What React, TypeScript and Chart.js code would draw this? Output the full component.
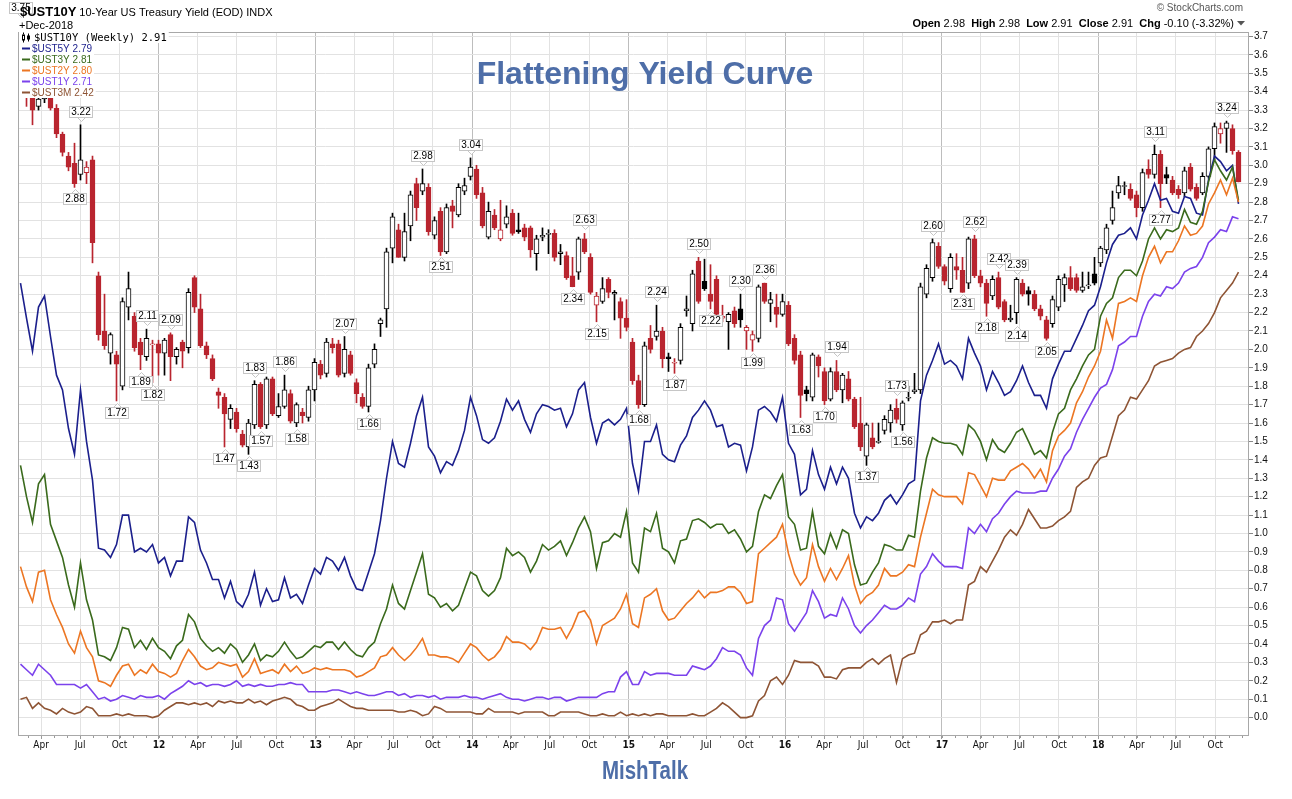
import React, { useEffect, useRef } from "react";
import { Chart, registerables } from "chart.js";

Chart.register(...registerables);

// ---- time base: each bar is a two-week period starting at this date ----
const FIRST_BAR_UTC = Date.UTC(2011, 1, 12);
const BAR_DAYS = 14;
const DAY_MS = 86400000;

// ---- $UST10Y two-week candles ----
const ust10yOpen = [
  3.60, 3.48, 3.38, 3.32, 3.36, 3.45, 3.31, 3.17, 3.05, 3.01,
  2.95, 2.96, 3.03, 2.40, 2.10, 1.98, 1.97, 1.80, 2.23, 2.18,
  2.04, 1.96, 2.03, 2.03, 1.98, 2.08, 1.96, 2.04, 2.01, 2.39,
  2.22, 2.02, 1.95, 1.77, 1.74, 1.62, 1.66, 1.54, 1.47, 1.59,
  1.81, 1.59, 1.84, 1.64, 1.69, 1.76, 1.60, 1.66, 1.63, 1.78,
  1.92, 1.87, 2.03, 2.03, 1.87, 1.97, 1.82, 1.74, 1.69, 1.92,
  2.14, 2.22, 2.55, 2.65, 2.50, 2.67, 2.90, 2.86, 2.88, 2.62,
  2.75, 2.53, 2.78, 2.73, 2.86, 2.94, 2.98, 2.85, 2.61, 2.73,
  2.60, 2.68, 2.74, 2.65, 2.66, 2.66, 2.52, 2.61, 2.63, 2.63,
  2.52, 2.51, 2.40, 2.42, 2.60, 2.50, 2.24, 2.26, 2.38, 2.30,
  2.26, 2.17, 2.04, 1.83, 1.70, 2.06, 2.07, 2.10, 1.96, 1.93,
  1.94, 2.21, 2.14, 2.48, 2.37, 2.30, 2.38, 2.17, 2.15, 2.21,
  2.22, 2.10, 2.05, 2.06, 2.36, 2.25, 2.23, 2.19, 2.24, 2.06,
  1.97, 1.78, 1.74, 1.96, 1.88, 1.73, 1.88, 1.78, 1.84, 1.73,
  1.60, 1.42, 1.52, 1.50, 1.56, 1.60, 1.68, 1.59, 1.74, 1.77,
  1.78, 2.30, 2.39, 2.56, 2.45, 2.33, 2.45, 2.43, 2.36, 2.60,
  2.40, 2.36, 2.29, 2.39, 2.26, 2.16, 2.20, 2.36, 2.32, 2.30,
  2.22, 2.16, 2.14, 2.23, 2.35, 2.39, 2.39, 2.32, 2.35, 2.41,
  2.47, 2.54, 2.70, 2.85, 2.89, 2.87, 2.84, 2.77, 2.98, 2.95,
  3.06, 2.95, 2.92, 2.87, 2.85, 2.99, 2.88, 2.85, 2.94, 3.09,
  3.17, 3.20, 3.20, 3.07,
];
const ust10yHigh = [
  3.75, 3.58, 3.40, 3.38, 3.52, 3.48, 3.33, 3.18, 3.07, 3.12,
  3.22, 3.02, 3.05, 2.42, 2.30, 2.09, 1.99, 2.28, 2.42, 2.20,
  2.06, 2.11, 2.05, 2.05, 2.06, 2.09, 2.01, 2.05, 2.33, 2.40,
  2.30, 2.04, 1.97, 1.79, 1.76, 1.70, 1.68, 1.56, 1.62, 1.83,
  1.82, 1.85, 1.85, 1.76, 1.86, 1.78, 1.71, 1.68, 1.80, 1.95,
  1.94, 2.06, 2.06, 2.05, 2.07, 1.99, 1.84, 1.76, 1.92, 2.03,
  2.17, 2.55, 2.74, 2.68, 2.74, 2.86, 2.93, 2.98, 2.90, 2.72,
  2.77, 2.79, 2.81, 2.90, 2.93, 3.04, 3.00, 2.88, 2.80, 2.76,
  2.81, 2.78, 2.76, 2.74, 2.68, 2.67, 2.62, 2.66, 2.65, 2.65,
  2.57, 2.53, 2.50, 2.61, 2.63, 2.52, 2.31, 2.39, 2.39, 2.32,
  2.28, 2.27, 2.06, 1.86, 2.04, 2.13, 2.24, 2.12, 1.98, 1.95,
  2.14, 2.29, 2.43, 2.50, 2.49, 2.46, 2.40, 2.24, 2.20, 2.23,
  2.30, 2.13, 2.10, 2.35, 2.36, 2.31, 2.30, 2.30, 2.26, 2.08,
  1.99, 1.80, 1.98, 1.97, 1.90, 1.90, 1.94, 1.87, 1.88, 1.74,
  1.74, 1.60, 1.60, 1.60, 1.64, 1.70, 1.73, 1.72, 1.80, 1.87,
  2.36, 2.46, 2.60, 2.58, 2.46, 2.52, 2.52, 2.50, 2.61, 2.62,
  2.43, 2.38, 2.40, 2.42, 2.27, 2.24, 2.39, 2.38, 2.34, 2.32,
  2.24, 2.18, 2.29, 2.40, 2.41, 2.45, 2.41, 2.42, 2.42, 2.50,
  2.56, 2.68, 2.86, 2.94, 2.91, 2.90, 2.86, 2.98, 3.03, 3.11,
  3.08, 2.99, 2.94, 2.89, 2.99, 3.01, 2.90, 2.96, 3.10, 3.23,
  3.23, 3.24, 3.22, 3.08,
];
const ust10yLow = [
  3.45, 3.32, 3.22, 3.30, 3.34, 3.30, 3.15, 3.05, 2.97, 2.88,
  2.92, 2.90, 2.47, 2.05, 2.00, 1.92, 1.72, 1.78, 2.16, 1.99,
  1.89, 1.94, 1.82, 1.86, 1.86, 1.83, 1.92, 1.90, 1.98, 2.20,
  2.01, 1.95, 1.83, 1.68, 1.47, 1.57, 1.55, 1.47, 1.43, 1.57,
  1.57, 1.57, 1.64, 1.63, 1.68, 1.60, 1.58, 1.60, 1.61, 1.72,
  1.84, 1.85, 1.98, 1.85, 1.85, 1.86, 1.71, 1.68, 1.66, 1.90,
  2.07, 2.12, 2.47, 2.50, 2.48, 2.59, 2.70, 2.84, 2.62, 2.60,
  2.51, 2.52, 2.66, 2.72, 2.84, 2.92, 2.82, 2.66, 2.60, 2.65,
  2.59, 2.66, 2.62, 2.63, 2.59, 2.50, 2.43, 2.59, 2.52, 2.48,
  2.46, 2.38, 2.34, 2.38, 2.52, 2.30, 2.15, 2.25, 2.28, 2.16,
  2.06, 2.10, 1.81, 1.68, 1.69, 1.98, 2.05, 1.90, 1.88, 1.87,
  1.92, 2.18, 2.10, 2.25, 2.32, 2.22, 2.18, 2.15, 2.00, 2.12,
  2.12, 2.00, 1.99, 2.04, 2.25, 2.15, 2.12, 2.18, 2.02, 1.92,
  1.63, 1.72, 1.72, 1.85, 1.70, 1.72, 1.77, 1.71, 1.72, 1.57,
  1.45, 1.37, 1.46, 1.49, 1.54, 1.55, 1.60, 1.56, 1.72, 1.76,
  1.76, 2.28, 2.37, 2.44, 2.35, 2.31, 2.38, 2.31, 2.33, 2.39,
  2.34, 2.18, 2.27, 2.22, 2.15, 2.15, 2.14, 2.29, 2.24, 2.21,
  2.16, 2.05, 2.12, 2.21, 2.26, 2.32, 2.31, 2.31, 2.33, 2.35,
  2.45, 2.52, 2.68, 2.82, 2.84, 2.81, 2.72, 2.75, 2.93, 2.93,
  2.77, 2.90, 2.84, 2.82, 2.83, 2.86, 2.81, 2.84, 2.93, 3.03,
  3.12, 3.07, 3.06, 2.91,
];
const ust10yClose = [
  3.48, 3.40, 3.30, 3.36, 3.45, 3.31, 3.17, 3.07, 2.99, 2.90,
  3.03, 2.99, 2.58, 2.08, 2.02, 2.08, 1.92, 2.26, 2.33, 2.01,
  1.97, 2.06, 2.03, 1.98, 2.05, 1.96, 2.00, 1.99, 2.31, 2.23,
  2.02, 1.97, 1.84, 1.75, 1.65, 1.68, 1.57, 1.48, 1.60, 1.81,
  1.58, 1.84, 1.65, 1.69, 1.78, 1.61, 1.70, 1.64, 1.78, 1.93,
  1.86, 2.04, 2.01, 1.86, 2.00, 1.87, 1.76, 1.69, 1.90, 2.00,
  2.16, 2.53, 2.72, 2.50, 2.64, 2.84, 2.77, 2.90, 2.64, 2.70,
  2.53, 2.77, 2.75, 2.88, 2.89, 2.99, 2.84, 2.67, 2.75, 2.66,
  2.65, 2.72, 2.63, 2.64, 2.61, 2.54, 2.60, 2.62, 2.63, 2.50,
  2.53, 2.39, 2.34, 2.60, 2.53, 2.31, 2.29, 2.33, 2.31, 2.31,
  2.17, 2.12, 1.83, 1.70, 2.02, 2.00, 2.10, 1.95, 1.95, 1.93,
  2.12, 2.22, 2.41, 2.26, 2.33, 2.26, 2.19, 2.18, 2.19, 2.14,
  2.16, 2.12, 2.08, 2.34, 2.26, 2.27, 2.19, 2.26, 2.03, 1.94,
  1.75, 1.76, 1.97, 1.91, 1.72, 1.88, 1.78, 1.86, 1.73, 1.58,
  1.47, 1.59, 1.47, 1.50, 1.62, 1.67, 1.62, 1.71, 1.74, 1.78,
  2.34, 2.44, 2.58, 2.45, 2.37, 2.50, 2.43, 2.31, 2.60, 2.40,
  2.36, 2.25, 2.38, 2.23, 2.16, 2.17, 2.38, 2.30, 2.30, 2.22,
  2.18, 2.06, 2.27, 2.38, 2.39, 2.33, 2.32, 2.34, 2.35, 2.36,
  2.55, 2.66, 2.77, 2.89, 2.89, 2.82, 2.77, 2.96, 2.95, 3.06,
  2.90, 2.93, 2.85, 2.84, 2.97, 2.87, 2.82, 2.94, 3.09, 3.21,
  3.20, 3.23, 3.08, 2.91,
];

// ---- other maturities (same two-week periods) ----
const ust5y = [
  2.36, 2.17, 1.99, 2.23, 2.29, 2.07, 1.86, 1.78, 1.57, 1.43,
  1.78, 1.50, 1.29, 0.92, 0.91, 0.87, 0.94, 1.10, 1.10, 0.90,
  0.92, 0.90, 0.94, 0.84, 0.87, 0.77, 0.85, 0.85, 1.09, 1.06,
  0.91, 0.84, 0.75, 0.75, 0.65, 0.74, 0.63, 0.60, 0.67, 0.79,
  0.61, 0.70, 0.63, 0.64, 0.76, 0.65, 0.67, 0.62, 0.72, 0.81,
  0.78, 0.87, 0.85, 0.80, 0.87, 0.77, 0.70, 0.69, 0.79, 0.89,
  1.07, 1.30, 1.50, 1.38, 1.36, 1.49, 1.64, 1.74, 1.47, 1.42,
  1.33, 1.39, 1.37, 1.45, 1.56, 1.74, 1.64, 1.51, 1.49, 1.52,
  1.61, 1.73, 1.67, 1.72, 1.62, 1.55, 1.65, 1.70, 1.69, 1.67,
  1.68, 1.58, 1.65, 1.78, 1.82, 1.63, 1.49, 1.60, 1.62, 1.59,
  1.62, 1.68, 1.38, 1.23, 1.50, 1.50, 1.59, 1.43, 1.40, 1.39,
  1.48, 1.53, 1.63, 1.67, 1.72, 1.67, 1.58, 1.59, 1.47, 1.49,
  1.48, 1.34, 1.47, 1.67, 1.69, 1.66, 1.61, 1.74, 1.49, 1.43,
  1.21, 1.24, 1.45, 1.32, 1.24, 1.36, 1.27, 1.36, 1.30, 1.11,
  1.03, 1.09, 1.07, 1.11, 1.18, 1.21, 1.16, 1.21, 1.27, 1.29,
  1.72, 1.86, 1.94, 2.03, 1.92, 1.94, 1.91, 1.84, 2.06, 1.98,
  1.91, 1.78, 1.88, 1.82, 1.75, 1.77, 1.83, 1.91, 1.82, 1.75,
  1.75, 1.68, 1.84, 1.92, 1.99, 1.99, 2.06, 2.13, 2.21, 2.24,
  2.34, 2.47, 2.57, 2.62, 2.63, 2.66, 2.60, 2.73, 2.81, 2.90,
  2.81, 2.82, 2.75, 2.74, 2.83, 2.82, 2.74, 2.73, 2.92, 3.05,
  3.02, 2.97, 3.00, 2.79,
];
const ust3y = [
  1.37, 1.20, 1.06, 1.27, 1.32, 1.05, 0.96, 0.87, 0.72, 0.60,
  0.84, 0.64, 0.53, 0.34, 0.33, 0.31, 0.38, 0.49, 0.48, 0.38,
  0.42, 0.37, 0.43, 0.38, 0.36, 0.32, 0.39, 0.42, 0.56, 0.52,
  0.43, 0.39, 0.36, 0.38, 0.35, 0.40, 0.37, 0.30, 0.34, 0.40,
  0.31, 0.34, 0.33, 0.36, 0.41, 0.36, 0.32, 0.33, 0.36, 0.39,
  0.38, 0.41, 0.41, 0.37, 0.41, 0.37, 0.34, 0.33, 0.38, 0.41,
  0.51, 0.59, 0.72, 0.62, 0.59, 0.69, 0.79, 0.89, 0.67, 0.65,
  0.60, 0.62, 0.58, 0.61, 0.70, 0.79, 0.77, 0.69, 0.66, 0.69,
  0.76, 0.92, 0.88, 0.90, 0.87, 0.79, 0.85, 0.94, 0.91, 0.93,
  0.96, 0.88, 0.95, 1.03, 1.09, 1.01, 0.81, 0.95, 0.96, 1.00,
  0.98, 1.12, 0.84, 0.79, 1.03, 1.01, 1.11, 0.92, 0.90, 0.84,
  0.96, 0.97, 1.07, 1.08, 1.06, 1.03, 1.05, 1.05, 1.00, 1.02,
  0.97, 0.90, 0.93, 1.12, 1.21, 1.19, 1.26, 1.32, 1.09, 1.05,
  0.91, 0.92, 1.12, 0.93, 0.89, 1.00, 0.92, 1.02, 1.00, 0.83,
  0.72, 0.73, 0.79, 0.84, 0.94, 0.93, 0.91, 0.91, 0.99, 0.98,
  1.23, 1.41, 1.52, 1.50, 1.49, 1.49, 1.48, 1.43, 1.59, 1.56,
  1.50, 1.40, 1.51, 1.46, 1.44, 1.49, 1.55, 1.57, 1.50, 1.43,
  1.45, 1.41, 1.55, 1.65, 1.68, 1.78, 1.84, 1.91, 1.97, 2.00,
  2.18, 2.25, 2.28, 2.39, 2.43, 2.43, 2.40, 2.48, 2.60, 2.66,
  2.60, 2.65, 2.64, 2.66, 2.76, 2.69, 2.68, 2.75, 2.91, 3.03,
  2.97, 2.92, 2.99, 2.81,
];
const ust2y = [
  0.82, 0.71, 0.63, 0.79, 0.80, 0.64, 0.56, 0.49, 0.40, 0.35,
  0.47, 0.38, 0.33, 0.20, 0.19, 0.17, 0.23, 0.28, 0.29, 0.23,
  0.26, 0.24, 0.29, 0.25, 0.24, 0.22, 0.24, 0.31, 0.37, 0.33,
  0.28, 0.26, 0.27, 0.30, 0.29, 0.28, 0.29, 0.22, 0.25, 0.32,
  0.24, 0.25, 0.26, 0.24, 0.29, 0.25, 0.28, 0.24, 0.25, 0.27,
  0.26, 0.27, 0.26, 0.26, 0.26, 0.25, 0.22, 0.23, 0.25, 0.27,
  0.33, 0.34, 0.38, 0.34, 0.31, 0.34, 0.38, 0.43, 0.34, 0.34,
  0.33, 0.33, 0.32, 0.30, 0.35, 0.40, 0.38, 0.34, 0.31, 0.33,
  0.37, 0.44, 0.41, 0.41, 0.40, 0.37, 0.41, 0.49, 0.48, 0.48,
  0.49, 0.43, 0.49, 0.57, 0.58, 0.53, 0.40, 0.50, 0.52, 0.54,
  0.59, 0.67, 0.51, 0.49, 0.65, 0.67, 0.70, 0.58, 0.53, 0.54,
  0.58, 0.62, 0.65, 0.69, 0.65, 0.68, 0.68, 0.69, 0.71, 0.71,
  0.68, 0.62, 0.63, 0.89, 0.92, 0.95, 0.98, 1.05, 0.89, 0.78,
  0.72, 0.76, 0.94, 0.82, 0.74, 0.81, 0.75, 0.81, 0.88, 0.72,
  0.62, 0.66, 0.68, 0.72, 0.81, 0.77, 0.77, 0.79, 0.83, 0.82,
  0.98, 1.11, 1.24, 1.21, 1.20, 1.20, 1.20, 1.16, 1.33, 1.32,
  1.26, 1.20, 1.30, 1.29, 1.29, 1.34, 1.36, 1.38, 1.35, 1.30,
  1.35, 1.28, 1.45, 1.53, 1.56, 1.60, 1.71, 1.77, 1.85, 1.91,
  1.99, 2.16, 2.06, 2.25, 2.26, 2.28, 2.26, 2.40, 2.50, 2.56,
  2.47, 2.53, 2.53, 2.59, 2.67, 2.62, 2.63, 2.67, 2.79, 2.85,
  2.92, 2.84, 2.93, 2.80,
];
const ust1y = [
  0.29, 0.26, 0.23, 0.29, 0.26, 0.23, 0.18, 0.18, 0.18, 0.18,
  0.16, 0.18, 0.14, 0.10, 0.11, 0.09, 0.10, 0.12, 0.11, 0.10,
  0.12, 0.11, 0.11, 0.12, 0.10, 0.13, 0.15, 0.17, 0.20, 0.18,
  0.19, 0.17, 0.18, 0.18, 0.17, 0.18, 0.20, 0.17, 0.18, 0.17,
  0.18, 0.17, 0.17, 0.18, 0.18, 0.19, 0.18, 0.18, 0.14, 0.14,
  0.14, 0.14, 0.15, 0.15, 0.14, 0.13, 0.14, 0.13, 0.12, 0.12,
  0.13, 0.14, 0.14, 0.12, 0.13, 0.11, 0.12, 0.12, 0.11, 0.12,
  0.10, 0.11, 0.11, 0.11, 0.12, 0.11, 0.11, 0.10, 0.11, 0.12,
  0.13, 0.11, 0.10, 0.10, 0.09, 0.10, 0.11, 0.11, 0.10, 0.11,
  0.11, 0.09, 0.10, 0.11, 0.11, 0.11, 0.11, 0.13, 0.14, 0.14,
  0.22, 0.25, 0.18, 0.18, 0.25, 0.23, 0.24, 0.24, 0.24, 0.23,
  0.23, 0.23, 0.28, 0.27, 0.26, 0.28, 0.32, 0.38, 0.36, 0.36,
  0.34, 0.27, 0.23, 0.43, 0.50, 0.53, 0.65, 0.64, 0.51, 0.47,
  0.52, 0.57, 0.69, 0.63, 0.54, 0.56, 0.55, 0.65, 0.59, 0.50,
  0.46, 0.50, 0.53, 0.57, 0.61, 0.59, 0.59, 0.61, 0.65, 0.63,
  0.78, 0.82, 0.89, 0.85, 0.82, 0.82, 0.82, 0.81, 1.03, 1.00,
  1.05, 1.01, 1.08, 1.11, 1.16, 1.20, 1.23, 1.22, 1.22, 1.22,
  1.23, 1.23, 1.30, 1.35, 1.42, 1.46, 1.55, 1.62, 1.68, 1.74,
  1.79, 1.81, 1.89, 2.02, 2.04, 2.07, 2.07, 2.18, 2.26, 2.30,
  2.29, 2.34, 2.33, 2.36, 2.42, 2.44, 2.45, 2.50, 2.58, 2.61,
  2.65, 2.64, 2.72, 2.71,
];
const ust3m = [
  0.10, 0.11, 0.05, 0.08, 0.05, 0.04, 0.02, 0.05, 0.03, 0.02,
  0.03, 0.06, 0.05, 0.01, 0.01, 0.01, 0.02, 0.01, 0.02, 0.01,
  0.01, 0.01, 0.00, 0.01, 0.04, 0.06, 0.08, 0.08, 0.07, 0.08,
  0.07, 0.08, 0.06, 0.09, 0.08, 0.09, 0.08, 0.08, 0.10, 0.08,
  0.09, 0.07, 0.09, 0.10, 0.11, 0.10, 0.07, 0.06, 0.04, 0.04,
  0.06, 0.07, 0.08, 0.10, 0.08, 0.06, 0.05, 0.05, 0.04, 0.04,
  0.04, 0.04, 0.04, 0.03, 0.03, 0.04, 0.03, 0.01, 0.02, 0.06,
  0.05, 0.03, 0.03, 0.03, 0.03, 0.03, 0.02, 0.02, 0.05, 0.03,
  0.03, 0.03, 0.03, 0.02, 0.03, 0.03, 0.03, 0.03, 0.01, 0.01,
  0.03, 0.03, 0.03, 0.03, 0.02, 0.01, 0.01, 0.02, 0.01, 0.01,
  0.03, 0.01, 0.02, 0.01, 0.02, 0.01, 0.02, 0.02, 0.01, 0.01,
  0.01, 0.01, 0.02, 0.01, 0.01, 0.03, 0.05, 0.08, 0.06, 0.03,
  0.00, 0.00, 0.01, 0.09, 0.12, 0.20, 0.22, 0.18, 0.23, 0.31,
  0.30, 0.30, 0.30, 0.28, 0.22, 0.22, 0.21, 0.26, 0.27, 0.27,
  0.27, 0.30, 0.32, 0.29, 0.32, 0.34, 0.19, 0.32, 0.34, 0.35,
  0.45, 0.47, 0.52, 0.52, 0.53, 0.51, 0.53, 0.53, 0.72, 0.74,
  0.82, 0.79, 0.85, 0.91, 0.98, 1.02, 0.99, 1.05, 1.13, 1.08,
  1.03, 1.03, 1.04, 1.07, 1.09, 1.12, 1.25, 1.28, 1.30, 1.37,
  1.41, 1.42, 1.53, 1.64, 1.67, 1.74, 1.73, 1.78, 1.83, 1.91,
  1.93, 1.94, 1.95, 1.98, 2.00, 2.01, 2.07, 2.10, 2.14, 2.20,
  2.28, 2.32, 2.36, 2.42,
];

// ---- axis labels ----
const xTickLabels = [
  "Apr", "Jul", "Oct", "12", "Apr", "Jul", "Oct", "13", "Apr", "Jul", "Oct",
  "14", "Apr", "Jul", "Oct", "15", "Apr", "Jul", "Oct", "16", "Apr", "Jul",
  "Oct", "17", "Apr", "Jul", "Oct", "18", "Apr", "Jul", "Oct",
];
const yTickValues = [
  0.0, 0.1, 0.2, 0.3, 0.4, 0.5, 0.6, 0.7, 0.8, 0.9, 1.0, 1.1, 1.2, 1.3, 1.4,
  1.5, 1.6, 1.7, 1.8, 1.9, 2.0, 2.1, 2.2, 2.3, 2.4, 2.5, 2.6, 2.7, 2.8, 2.9,
  3.0, 3.1, 3.2, 3.3, 3.4, 3.5, 3.6, 3.7,
];

// ---- price flags on the 10Y candles (bar index, value, above/below) ----
const annIndex = [
  0, 10, 9, 16, 21, 20, 25, 22, 34, 38, 39, 40, 44, 46, 54, 58, 67, 70, 75, 92,
  94, 96, 103, 106, 109, 113, 115, 120, 122, 124, 130, 134, 136, 141, 146, 147,
  152, 157, 159, 161, 163, 166, 166, 171, 189, 190, 201,
];
const annValue = [
  3.75, 3.22, 2.88, 1.72, 2.11, 1.89, 2.09, 1.82, 1.47, 1.43, 1.83, 1.57, 1.86,
  1.58, 2.07, 1.66, 2.98, 2.51, 3.04, 2.34, 2.63, 2.15, 1.68, 2.24, 1.87, 2.50,
  2.22, 2.30, 1.99, 2.36, 1.63, 1.70, 1.94, 1.37, 1.73, 1.56, 2.60, 2.31, 2.62,
  2.18, 2.42, 2.39, 2.14, 2.05, 3.11, 2.77, 3.24,
];
const annSide = [
  "a", "a", "b", "b", "a", "b", "a", "b", "b", "b", "a", "b", "a", "b", "a",
  "b", "a", "b", "a", "b", "a", "b", "b", "a", "b", "a", "b", "a", "b", "a",
  "b", "b", "a", "b", "a", "b", "a", "b", "a", "b", "a", "a", "b", "b", "a",
  "b", "a",
];

const legendNames = ["$UST10Y (Weekly)", "$UST5Y", "$UST3Y", "$UST2Y", "$UST1Y", "$UST3M"];
const legendLast = [2.91, 2.79, 2.81, 2.80, 2.71, 2.42];

// ---- styling ----
const SANS = "'Liberation Sans', Arial, sans-serif";
const NARROW = "'Liberation Sans Narrow', 'Arial Narrow', 'DejaVu Sans Condensed', sans-serif";
const MONO = "'DejaVu Sans Mono', 'Liberation Mono', monospace";
const RED = "#b9252f";
const BLUE = "#1b1f8c";
const GREEN = "#3a6a1c";
const ORANGE = "#ec7623";
const PURPLE = "#7b42ec";
const BROWN = "#8e5434";
const TITLE_BLUE = "#4e6ea8";
const seriesColors = ["#000000", BLUE, GREEN, ORANGE, PURPLE, BROWN];

const X_MIN = -0.4167;
const X_MAX = 204.75;
const Y_MIN = -0.1;
const Y_MAX = 3.724;

const barValue = (utc: number) => (utc - FIRST_BAR_UTC) / DAY_MS / BAR_DAYS;
const xTickValues = xTickLabels.map((_, k) => barValue(Date.UTC(2011, 3 + 3 * k, 1)));
const isYearLabel = (k: number) => /^\d/.test(xTickLabels[k] ?? "");

const decorPlugin = {
  id: "decor",
  afterDraw(chart: any) {
    const { ctx, chartArea: a } = chart;
    const xs = chart.scales.x;
    const ys = chart.scales.y;
    ctx.save();

    // month ticks along the time axis
    ctx.strokeStyle = "#9a9a9a";
    ctx.lineWidth = 1;
    for (let m = 1; m < 96; m++) {
      const v = barValue(Date.UTC(2011, m, 1));
      if (v < X_MIN || v > X_MAX) continue;
      const px = Math.round(xs.getPixelForValue(v)) + 0.5;
      ctx.beginPath();
      ctx.moveTo(px, a.bottom);
      ctx.lineTo(px, a.bottom + 2);
      ctx.stroke();
    }

    // plot frame
    ctx.strokeStyle = "#a8a8a8";
    ctx.strokeRect(Math.round(a.left) + 0.5, Math.round(a.top) + 0.5,
      Math.round(a.right - a.left) - 1, Math.round(a.bottom - a.top) - 1);

    // legend (white backed rows)
    for (let k = 0; k < legendNames.length; k++) {
      const y = a.top + 5.5 + 11 * k;
      const label = `${legendNames[k]} ${legendLast[k].toFixed(2)}`;
      ctx.font = k === 0 ? `10.5px ${MONO}` : `10px ${SANS}`;
      const tx = k === 0 ? 34 : 32;
      const tw = ctx.measureText(label).width;
      ctx.fillStyle = "#ffffff";
      ctx.fillRect(a.left + 1, y - 5.5, tx + tw + 2 - (a.left + 1), 11);
      if (k === 0) {
        ctx.strokeStyle = "#000";
        ctx.beginPath();
        ctx.moveTo(23.5, y - 5); ctx.lineTo(23.5, y + 5);
        ctx.moveTo(28.5, y - 4); ctx.lineTo(28.5, y + 4);
        ctx.stroke();
        ctx.fillStyle = "#fff";
        ctx.fillRect(22, y - 3, 3, 5);
        ctx.strokeRect(22.5, y - 2.5, 2, 5);
        ctx.fillStyle = "#000";
        ctx.fillRect(27, y - 2, 3, 4);
      } else {
        ctx.fillStyle = seriesColors[k];
        ctx.fillRect(22, y - 1, 8, 2);
      }
      ctx.fillStyle = seriesColors[k];
      ctx.textAlign = "left";
      ctx.textBaseline = "middle";
      ctx.fillText(label, tx, y + 0.5);
    }

    // price flags
    ctx.font = `10px ${SANS}`;
    ctx.textAlign = "center";
    ctx.textBaseline = "middle";
    ctx.lineWidth = 1;
    annIndex.forEach((idx, k) => {
      const val = annValue[k];
      const txt = val.toFixed(2);
      const px = Math.round(xs.getPixelForValue(idx));
      const py = ys.getPixelForValue(val);
      const w = Math.ceil(ctx.measureText(txt).width) + 4;
      const h = 12;
      const above = annSide[k] === "a";
      let top = val > Y_MAX ? 2 : above ? py - 7 - h : py + 6;
      top = Math.round(top);
      const left = Math.round(px - w / 2);
      ctx.fillStyle = "#ffffff";
      ctx.strokeStyle = "#c6c6c6";
      ctx.beginPath();
      if (above) {
        ctx.moveTo(px - 3.5, top + h - 0.5);
        ctx.lineTo(px + 0.5, top + h + 3.5);
        ctx.lineTo(px + 4.5, top + h - 0.5);
      } else {
        ctx.moveTo(px - 3.5, top + 0.5);
        ctx.lineTo(px + 0.5, top - 3.5);
        ctx.lineTo(px + 4.5, top + 0.5);
      }
      ctx.fill();
      ctx.stroke();
      ctx.fillRect(left, top, w, h);
      ctx.strokeRect(left + 0.5, top + 0.5, w - 1, h - 1);
      ctx.fillStyle = "#000";
      ctx.fillText(txt, left + w / 2, top + h / 2 + 0.5);
    });

    // title
    ctx.fillStyle = TITLE_BLUE;
    ctx.textAlign = "center";
    ctx.textBaseline = "alphabetic";
    ctx.font = `bold 32px ${SANS}`;
    ctx.fillText("Flattening Yield Curve", 645, 84);

    // footer
    ctx.save();
    ctx.translate(645, 779);
    ctx.scale(0.82, 1);
    ctx.font = `bold 25px ${SANS}`;
    ctx.fillText("MishTalk", 0, 0);
    ctx.restore();

    // header left
    ctx.textAlign = "left";
    ctx.fillStyle = "#000";
    ctx.font = `bold 13px ${SANS}`;
    ctx.fillText("$UST10Y", 20, 16);
    const w1 = ctx.measureText("$UST10Y").width;
    ctx.font = `11px ${SANS}`;
    ctx.fillText("10-Year US Treasury Yield (EOD) INDX", 20 + w1 + 3, 16);
    ctx.fillText("+Dec-2018", 19, 29);

    // header right
    ctx.fillStyle = "#555";
    ctx.font = `10px ${SANS}`;
    ctx.textAlign = "right";
    ctx.fillText("\u00A9 StockCharts.com", 1243, 11);
    const parts: [string, boolean][] = [
      ["Open", true], [" 2.98  ", false], ["High", true], [" 2.98  ", false],
      ["Low", true], [" 2.91  ", false], ["Close", true], [" 2.91  ", false],
      ["Chg", true], [" -0.10 (-3.32%)", false],
    ];
    let total = 0;
    parts.forEach(([t, b]) => {
      ctx.font = `${b ? "bold " : ""}11px ${SANS}`;
      total += ctx.measureText(t).width;
    });
    let cx = 1234 - total;
    ctx.textAlign = "left";
    ctx.fillStyle = "#000";
    parts.forEach(([t, b]) => {
      ctx.font = `${b ? "bold " : ""}11px ${SANS}`;
      ctx.fillText(t, cx, 27);
      cx += ctx.measureText(t).width;
    });
    ctx.fillStyle = "#555";
    ctx.beginPath();
    ctx.moveTo(1237, 21); ctx.lineTo(1245, 21); ctx.lineTo(1241, 25.5);
    ctx.closePath();
    ctx.fill();

    ctx.restore();
  },
};

export default function App() {
  const ref = useRef<HTMLCanvasElement>(null);

  useEffect(() => {
    const canvas = ref.current;
    if (!canvas) return;
    const idx = ust10yClose.map((_, i) => i);
    const candleColor = ust10yClose.map((c, i) => {
      const prev = i === 0 ? ust10yOpen[0] : ust10yClose[i - 1];
      return c >= prev ? "#000000" : RED;
    });
    const candleFill = ust10yClose.map((c, i) => (c >= ust10yOpen[i] ? "#ffffff" : candleColor[i]));
    const line = (label: string, values: number[], color: string) => ({
      type: "line" as const,
      label,
      data: values.map((v, i) => ({ x: i, y: v })),
      borderColor: color,
      backgroundColor: color,
      borderWidth: 1.6,
      pointRadius: 0,
      tension: 0,
      order: 1,
    });

    const chart = new Chart(canvas, {
      type: "bar",
      data: {
        datasets: [
          {
            type: "bar",
            label: "wick",
            data: idx.map((i) => ({ x: i, y: [ust10yLow[i], ust10yHigh[i]] })),
            backgroundColor: candleColor,
            borderWidth: 0,
            barThickness: 1,
            grouped: false,
            order: 3,
          } as any,
          {
            type: "bar",
            label: "body",
            data: idx.map((i) => ({ x: i, y: [ust10yOpen[i], ust10yClose[i]] })),
            backgroundColor: candleFill,
            borderColor: candleColor,
            borderWidth: 1,
            borderSkipped: false,
            barThickness: 5,
            minBarLength: 1,
            grouped: false,
            order: 2,
          } as any,
          line("$UST3M", ust3m, BROWN),
          line("$UST1Y", ust1y, PURPLE),
          line("$UST2Y", ust2y, ORANGE),
          line("$UST3Y", ust3y, GREEN),
          line("$UST5Y", ust5y, BLUE),
        ],
      },
      options: {
        responsive: false,
        animation: false,
        devicePixelRatio: 1,
        layout: { padding: { left: 18, top: 32, right: 0, bottom: 0 } },
        plugins: { legend: { display: false }, tooltip: { enabled: false } },
        events: [],
        scales: {
          x: {
            type: "linear",
            min: X_MIN,
            max: X_MAX,
            offset: false,
            afterBuildTicks: (s: any) => {
              s.ticks = xTickValues.map((v) => ({ value: v }));
            },
            afterFit: (s: any) => {
              s.height = 63;
            },
            ticks: {
              autoSkip: false,
              maxRotation: 0,
              minRotation: 0,
              padding: 0,
              color: "#111",
              font: (c: any) => ({ family: NARROW, size: 10, weight: isYearLabel(c.index) ? "bold" : "normal" }),
              callback: (_v: any, i: number) => xTickLabels[i],
            },
            grid: {
              color: (c: any) => (isYearLabel(c.index) ? "#bdbdbd" : "#e2e2e2"),
              tickLength: 3,
              tickColor: "#9a9a9a",
              offset: false,
            },
            border: { display: false },
          },
          y: {
            position: "right",
            min: Y_MIN,
            max: Y_MAX,
            afterBuildTicks: (s: any) => {
              s.ticks = yTickValues.map((v) => ({ value: v }));
            },
            afterFit: (s: any) => {
              s.width = 43;
            },
            ticks: {
              autoSkip: false,
              padding: 1,
              color: "#111",
              font: { family: SANS, size: 10 },
              callback: (v: any) => Number(v).toFixed(1),
            },
            grid: { color: "#e2e2e2", tickLength: 4, tickColor: "#888" },
            border: { display: false },
          },
        },
      } as any,
      plugins: [decorPlugin],
    });
    return () => chart.destroy();
  }, []);

  return (
    <canvas
      ref={ref}
      width={1292}
      height={799}
      style={{ position: "fixed", left: 0, top: 0, width: 1292, height: 799, background: "#fff" }}
    />
  );
}
